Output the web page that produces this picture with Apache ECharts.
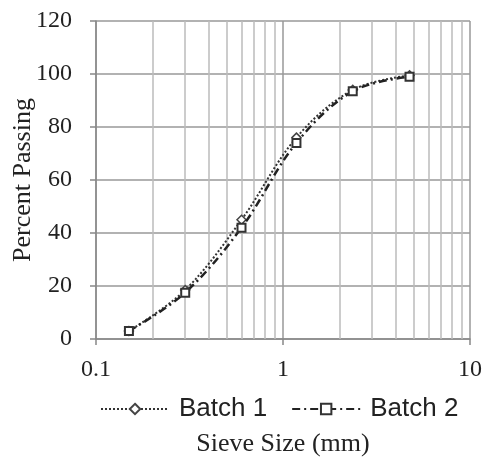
<!DOCTYPE html>
<html><head><meta charset="utf-8">
<script src="https://cdn.jsdelivr.net/npm/echarts@6/dist/echarts.min.js"></script>
<style>html,body{margin:0;padding:0;background:#fff}#c{width:487px;height:459px}</style>
</head><body><div id="c"></div>
<script>
const sieveSizes = [0.15, 0.3, 0.6, 1.18, 2.36, 4.75];
const batch1 = [3, 18.5, 45, 76, 94, 99.5];
const batch2 = [3, 17.5, 42, 74, 93.5, 99];
const minorGridValues = [0.2,0.3,0.4,0.5,0.6,0.7,0.8,0.9,2,3,4,5,6,7,8,9];
const yTicks = [0, 20, 40, 60, 80, 100, 120];

const chart = echarts.init(document.getElementById('c'));
const serif = 'Liberation Serif';
const sans = 'Liberation Sans';
chart.setOption({
  animation: false,
  backgroundColor: '#fff',
  grid: { left: 96, right: 17, top: 21, bottom: 120, containLabel: false, outerBoundsMode: 'none' },
  xAxis: {
    type: 'log', logBase: 10, min: 0.1, max: 10,
    name: 'Sieve Size (mm)', nameLocation: 'middle', nameGap: 92,
    nameTextStyle: { fontFamily: serif, fontSize: 26, color: '#222' },
    axisLine: { show: true, onZero: false, lineStyle: { color: '#888', width: 1.5 } },
    axisTick: { show: true, length: 6, lineStyle: { color: '#888', width: 1.5 } },
    axisLabel: { fontFamily: serif, fontSize: 24, color: '#222', margin: 19,
      formatter: v => String(v) },
    splitLine: { show: true, lineStyle: { color: '#999', width: 1.5 } }
  },
  yAxis: {
    type: 'value', min: yTicks[0], max: yTicks[yTicks.length-1], interval: 20,
    name: 'Percent Passing', nameLocation: 'middle', nameGap: 60, nameMoveOverlap: false,
    nameTextStyle: { fontFamily: serif, fontSize: 26, color: '#222' },
    axisLine: { show: true, lineStyle: { color: '#888', width: 1.5 } },
    axisTick: { show: true, length: 6, lineStyle: { color: '#888', width: 1.5 } },
    axisLabel: { fontFamily: serif, fontSize: 24, color: '#222', margin: 24 },
    splitLine: { show: true, lineStyle: { color: '#999', width: 1.5 } }
  },
  legend: {
    top: 391, left: 95, itemWidth: 68, itemHeight: 13, itemGap: 24,
    textStyle: { fontFamily: sans, fontSize: 26, color: '#222', padding: [0, 0, 0, 5] },
    data: ['Batch 1', 'Batch 2']
  },
  series: [
    {
      name: 'Batch 1', type: 'line', smooth: 0.35,
      data: sieveSizes.map((s, i) => [s, batch1[i]]),
      symbol: 'diamond', symbolSize: 9, showSymbol: true,
      lineStyle: { color: '#333', width: 2, type: 'dotted' },
      itemStyle: { color: '#fff', borderColor: '#444', borderWidth: 1.5 },
      z: 3,
      markLine: {
        silent: true, symbol: 'none', label: { show: false },
        lineStyle: { color: '#bbb', width: 1.5, type: 'solid' },
        data: minorGridValues.map(v => ({ xAxis: v })),
        z: 1
      }
    },
    {
      name: 'Batch 2', type: 'line', smooth: 0.35,
      data: sieveSizes.map((s, i) => [s, batch2[i]]),
      symbol: 'rect', symbolSize: 8, showSymbol: true,
      lineStyle: { color: '#222', width: 2.5, type: [8, 4, 2, 4] },
      itemStyle: { color: '#fff', borderColor: '#333', borderWidth: 2 },
      z: 4
    }
  ]
});
</script></body></html>
